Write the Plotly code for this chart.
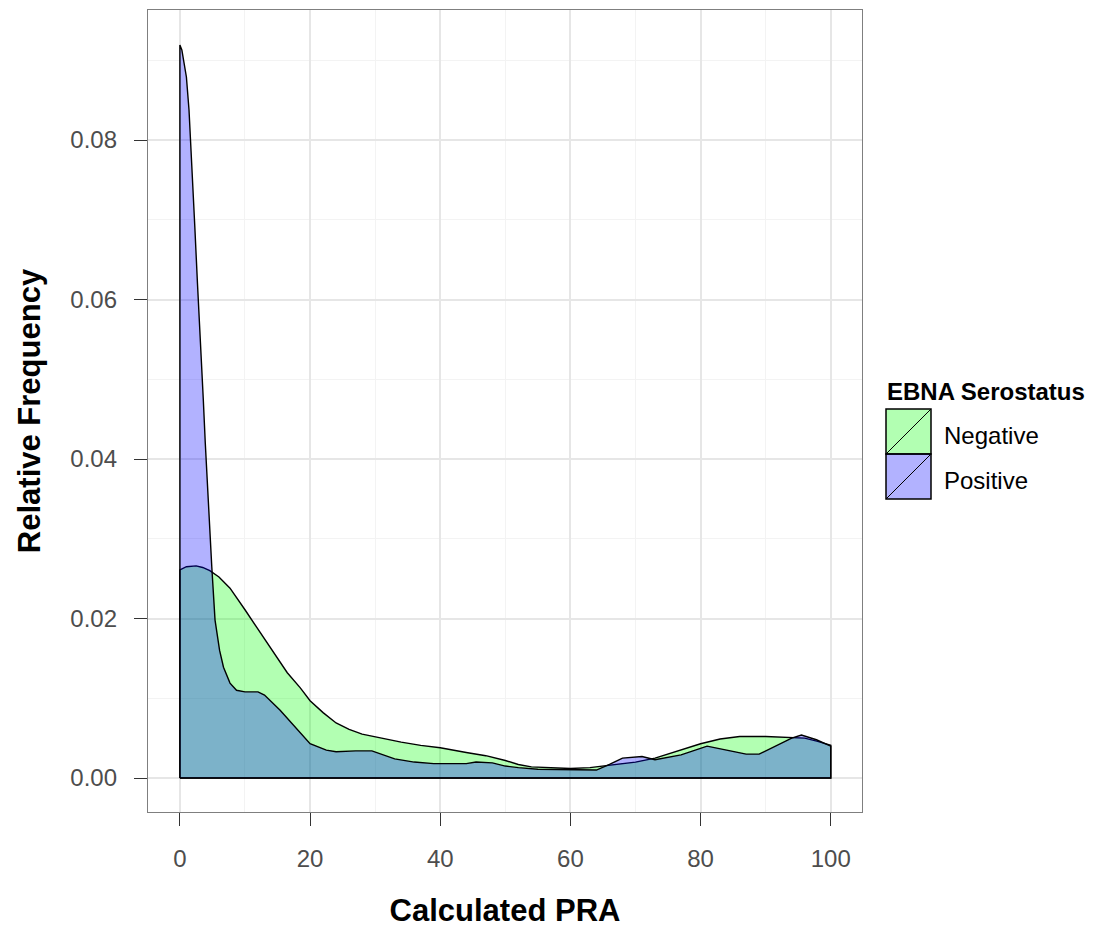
import plotly.graph_objects as go

# ---- data ----
neg_x = [0, 1, 2.5, 3.5, 4.6, 6, 7.7, 10, 12, 14, 16.5, 18.5, 20, 22, 24, 26, 28, 31, 34, 37,
         40, 44, 47, 50, 52, 54, 57, 60, 63, 66, 70, 73, 76, 80, 83, 86, 90, 93, 96, 98, 100]
neg_y = [0.0261, 0.0265, 0.0266, 0.0264, 0.0260, 0.0252, 0.0238, 0.0211, 0.0187, 0.0162,
         0.0132, 0.0113, 0.0097, 0.0082, 0.0069, 0.0061, 0.0055, 0.0050, 0.0045, 0.0041,
         0.0038, 0.0032, 0.0028, 0.0022, 0.0017, 0.0014, 0.0013, 0.0012, 0.0013, 0.0016,
         0.0020, 0.0025, 0.0033, 0.0043, 0.0049, 0.0052, 0.0052, 0.0051, 0.0050, 0.0046,
         0.0041]

pos_x = [0, 0.3, 0.7, 1.0, 1.4, 1.7, 2.0, 2.3, 2.7, 3.0, 3.3, 3.6, 3.9, 4.2, 4.5, 4.9, 5.4,
         6.1, 6.7, 7.7, 8.7, 10, 12, 13, 15.4, 18.4, 20, 22.5, 24, 27, 29.5, 33, 36, 39, 44,
         45.5, 48, 50, 52, 55, 60, 64, 66, 68, 71, 73, 77, 81, 84, 87, 89, 92, 94, 95.5,
         97.8, 100]
pos_y = [0.0919, 0.0913, 0.0896, 0.0879, 0.0838, 0.0790, 0.0754, 0.0690, 0.0620, 0.0575,
         0.0530, 0.0474, 0.0420, 0.0370, 0.0320, 0.0265, 0.0198, 0.0160, 0.0139, 0.0119,
         0.0110, 0.0108, 0.0108, 0.0104, 0.0085, 0.0058, 0.0043, 0.0035, 0.0033, 0.0034,
         0.0034, 0.0024, 0.0020, 0.0018, 0.0018, 0.0020, 0.0019, 0.0015, 0.0013, 0.0011,
         0.0010, 0.0010, 0.0017, 0.0025, 0.0027, 0.0023, 0.0029, 0.0040, 0.0035, 0.0030,
         0.0030, 0.0042, 0.0050, 0.0054, 0.0048, 0.0040]

groups = ["Negative", "Positive"]
fills = ["rgba(0,255,0,0.3)", "rgba(0,0,255,0.3)"]
x_ticks = [0, 20, 40, 60, 80, 100]
y_ticks = [0.00, 0.02, 0.04, 0.06, 0.08]
y_tick_labels = ["0.00", "0.02", "0.04", "0.06", "0.08"]

FONT = "Liberation Sans, Arial, sans-serif"


def closed(xs, ys):
    # close the density polygon down to the baseline
    return [xs[0]] + list(xs) + [xs[-1], xs[0]], [0] + list(ys) + [0, 0]


fig = go.Figure()
for name, xs, ys, fc in zip(groups, [neg_x, pos_x], [neg_y, pos_y], fills):
    cx, cy = closed(xs, ys)
    fig.add_trace(go.Scatter(x=cx, y=cy, mode="lines", fill="toself", fillcolor=fc,
                             line=dict(color="black", width=1.4), name=name,
                             showlegend=False, hoverinfo="skip"))

axis_common = dict(showline=True, mirror=True, linecolor="#7F7F7F", linewidth=1.3,
                   ticks="outside", ticklen=13, tickcolor="#333333", tickwidth=1.3,
                   gridcolor="#E6E6E6", gridwidth=1.6, zeroline=False,
                   tickfont=dict(family=FONT, size=24, color="#4D4D4D"))

fig.update_xaxes(range=[-4.9, 104.8], tickvals=x_ticks, ticklabelstandoff=12,
                 minor=dict(tickvals=[10, 30, 50, 70, 90], showgrid=True,
                            gridcolor="#F3F3F3", gridwidth=1, ticks=""),
                 title=dict(text="<b>Calculated PRA</b>", standoff=28,
                            font=dict(family=FONT, size=31, color="black")),
                 **axis_common)
fig.update_yaxes(range=[-0.00426, 0.0963], tickvals=y_ticks, ticktext=y_tick_labels,
                 ticklabelstandoff=12,
                 minor=dict(tickvals=[0.01, 0.03, 0.05, 0.07, 0.09], showgrid=True,
                            gridcolor="#F3F3F3", gridwidth=1, ticks=""),
                 title=dict(text="<b>Relative Frequency</b>", standoff=20,
                            font=dict(family=FONT, size=31, color="black")),
                 **axis_common)

# ---- manual legend (ggplot style keys with diagonal) ----
L, R, T, B = 148, 240, 10, 117
W, H = 1102, 929
pw, ph = W - L - R, H - T - B


def px(xp):
    return (xp - L) / pw


def py(yp):
    return (H - B - yp) / ph


shapes = []
annotations = []
key_x0, key_x1 = px(886), px(931)
key_tops = [409, 454]
key_h = 45
for name, fc, top in zip(groups, fills, key_tops):
    shapes.append(dict(type="rect", xref="paper", yref="paper", x0=key_x0, x1=key_x1,
                       y0=py(top + key_h), y1=py(top), fillcolor=fc,
                       line=dict(color="black", width=1.5)))
    shapes.append(dict(type="line", xref="paper", yref="paper", x0=key_x0, x1=key_x1,
                       y0=py(top + key_h), y1=py(top), line=dict(color="black", width=1)))
    annotations.append(dict(xref="paper", yref="paper", x=px(942), y=py(top + key_h / 2 + 4),
                            text=name, showarrow=False, xanchor="left", yanchor="middle",
                            font=dict(family=FONT, size=24, color="black")))
annotations.append(dict(xref="paper", yref="paper", x=px(885), y=py(391),
                        text="<b>EBNA Serostatus</b>", showarrow=False, xanchor="left",
                        yanchor="middle", font=dict(family=FONT, size=24, color="black")))

fig.update_layout(width=W, height=H, margin=dict(l=L, r=R, t=T, b=B, autoexpand=False),
                  paper_bgcolor="white", plot_bgcolor="white",
                  shapes=shapes, annotations=annotations, showlegend=False)

fig.write_html("out.html")
